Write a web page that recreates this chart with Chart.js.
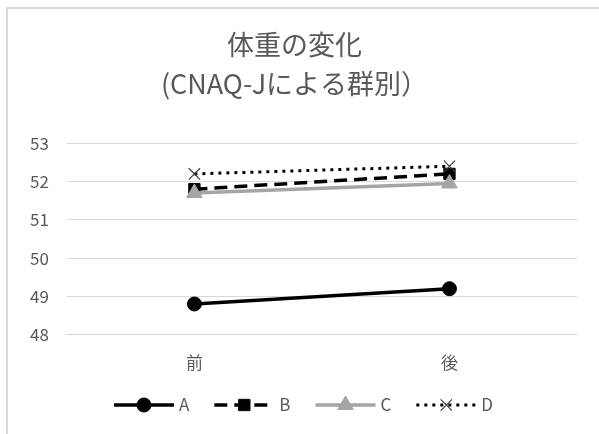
<!DOCTYPE html>
<html>
<head>
<meta charset="utf-8">
<script src="https://cdn.jsdelivr.net/npm/chart.js@4/dist/chart.umd.min.js"></script>
<style>
  html, body { margin: 0; padding: 0; background: #fff; }
  #wrap { position: relative; width: 599px; height: 434px; overflow: hidden; }
  #frame { position: absolute; left: 6px; top: 7px; width: 640px; height: 480px; border: 2px solid #d9d9d9; box-sizing: border-box; }
  #chart { position: absolute; left: 0; top: 0; }
</style>
</head>
<body>
<div id="wrap">
  <div id="frame"></div>
  <canvas id="chart" width="599" height="434"></canvas>
</div>
<script>
// データ
const categories = ['前', '後'];
const seriesNames = ['A', 'B', 'C', 'D'];
const seriesA = [48.8, 49.2];
const seriesB = [51.8, 52.2];
const seriesC = [51.7, 51.95];
const seriesD = [52.2, 52.4];
const yTicks = [48, 49, 50, 51, 52, 53];

const fontFamily = '"Noto Sans CJK JP", "Noto Sans", sans-serif';
const textColor = '#595959';

// 線と点のある凡例（Excel風）
const lineLegend = {
    id: 'lineLegend',
    afterDraw(chart) {
        const ctx = chart.ctx;
        const y = 405;
        const lineLen = 60, gapText = 5, gapItem = 25;
        ctx.save();
        ctx.font = '17px ' + fontFamily;
        const items = chart.data.datasets.map(ds => ({ ds, w: lineLen + gapText + ctx.measureText(ds.label).width }));
        const total = items.reduce((s, it) => s + it.w, 0) + gapItem * (items.length - 1);
        let x = (chart.width - total) / 2 + 4;
        items.forEach(({ ds, w }) => {
            ctx.strokeStyle = ds.borderColor;
            ctx.lineWidth = ds.borderWidth;
            ctx.lineCap = 'butt';
            ctx.setLineDash(ds.borderDash || []);
            ctx.beginPath();
            ctx.moveTo(x, y);
            ctx.lineTo(x + lineLen, y);
            ctx.stroke();
            ctx.setLineDash([]);
            ctx.fillStyle = ds.pointBackgroundColor;
            ctx.strokeStyle = ds.pointBorderColor;
            ctx.lineWidth = ds.pointBorderWidth;
            Chart.helpers.drawPoint(ctx, {
                pointStyle: ds.pointStyle,
                radius: ds.pointRadius,
                rotation: 0,
                borderWidth: ds.pointBorderWidth
            }, x + lineLen / 2, y);
            ctx.fillStyle = textColor;
            ctx.textBaseline = 'middle';
            ctx.textAlign = 'left';
            ctx.fillText(ds.label, x + lineLen + gapText, y);
            x += w + gapItem;
        });
        ctx.restore();
    }
};

new Chart(document.getElementById('chart').getContext('2d'), {
    type: 'line',
    data: {
        labels: categories,
        datasets: [{
            label: seriesNames[0],
            data: seriesA,
            borderColor: '#000000',
            borderWidth: 3.5,
            pointStyle: 'circle',
            pointRadius: 7,
            pointBackgroundColor: '#000000',
            pointBorderColor: '#000000',
            pointBorderWidth: 1,
            order: 4
        }, {
            label: seriesNames[1],
            data: seriesB,
            borderColor: '#000000',
            borderWidth: 3.5,
            borderDash: [13, 7],
            pointStyle: 'rect',
            pointRadius: 8,
            pointBackgroundColor: '#000000',
            pointBorderColor: '#000000',
            pointBorderWidth: 1,
            order: 3
        }, {
            label: seriesNames[2],
            data: seriesC,
            borderColor: '#a5a5a5',
            borderWidth: 3.5,
            pointStyle: 'triangle',
            pointRadius: 9,
            pointBackgroundColor: '#a5a5a5',
            pointBorderColor: '#a5a5a5',
            pointBorderWidth: 1,
            order: 2
        }, {
            label: seriesNames[3],
            data: seriesD,
            borderColor: '#000000',
            borderWidth: 3,
            borderDash: [3, 5],
            pointStyle: 'crossRot',
            pointRadius: 8,
            pointBackgroundColor: '#000000',
            pointBorderColor: '#404040',
            pointBorderWidth: 1.2,
            order: 1
        }]
    },
    options: {
        responsive: false,
        animation: false,
        layout: {
            padding: { left: 12, right: 22, top: 7, bottom: 43 }
        },
        plugins: {
            legend: { display: false },
            tooltip: { enabled: false },
            title: {
                display: true,
                text: ['体重の変化', '(CNAQ-Jによる群別）'],
                color: textColor,
                font: { family: fontFamily, size: 27, weight: 'normal', lineHeight: 1.45 },
                padding: { top: 18, bottom: 40 }
            }
        },
        scales: {
            x: {
                offset: true,
                grid: { display: false, drawTicks: false },
                border: { display: true, color: '#d9d9d9', width: 1 },
                ticks: { color: textColor, font: { family: fontFamily, size: 17 }, padding: 18 }
            },
            y: {
                min: yTicks[0],
                max: yTicks[yTicks.length - 1],
                afterBuildTicks(axis) {
                    axis.ticks = yTicks.map(v => ({ value: v }));
                },
                grid: { color: '#d9d9d9', lineWidth: 1, drawTicks: false },
                border: { display: false },
                ticks: { color: textColor, font: { family: fontFamily, size: 17 }, padding: 18 }
            }
        }
    },
    plugins: [lineLegend]
});
</script>
</body>
</html>
